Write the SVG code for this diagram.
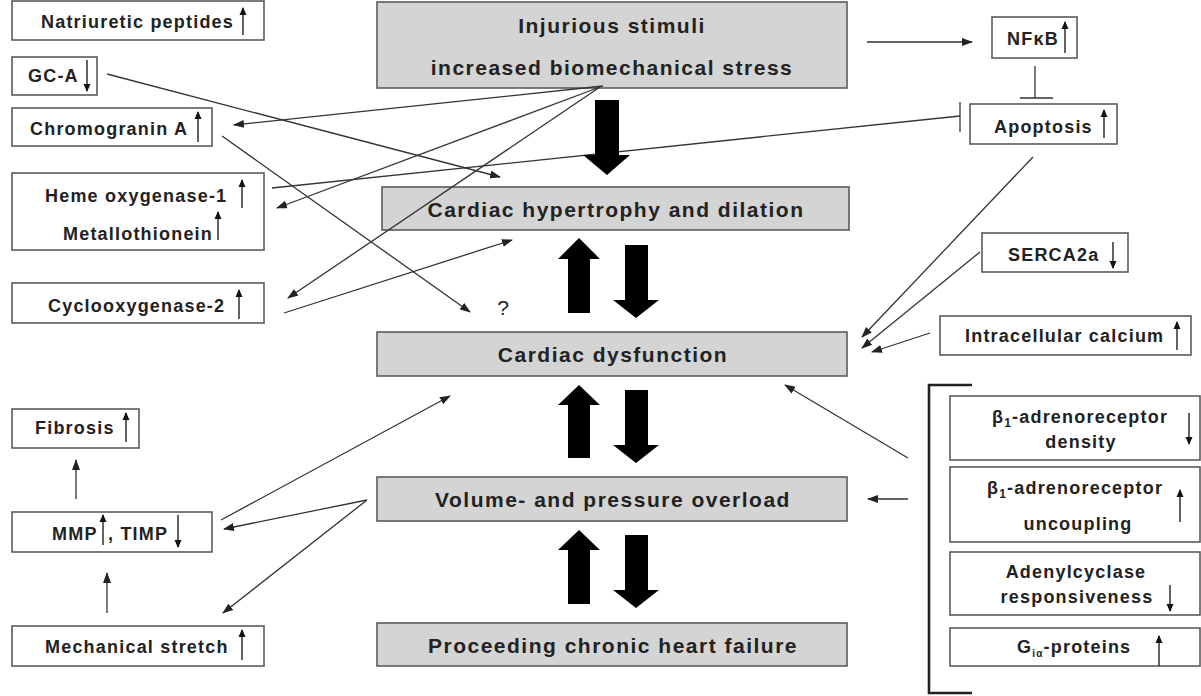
<svg xmlns="http://www.w3.org/2000/svg" width="1201" height="696" viewBox="0 0 1201 696">
<style>
.bx{fill:#fff;stroke:#5a5a5a;stroke-width:1.6}
.gb{fill:#d4d4d4;stroke:#5a5a5a;stroke-width:1.6}
.t{font-family:"Liberation Sans",Arial,sans-serif;font-weight:bold;font-size:18px;letter-spacing:1.2px;fill:#222}
.c{font-family:"Liberation Sans",Arial,sans-serif;font-weight:bold;font-size:21px;letter-spacing:1.5px;fill:#222;text-anchor:middle}
.m{text-anchor:middle}
.ln{stroke:#333;stroke-width:1.3;fill:none}
.sa{stroke:#222;stroke-width:1.4;fill:none}
.big{fill:#000}
</style>
<defs>
<marker id="a" markerUnits="userSpaceOnUse" markerWidth="11" markerHeight="8" refX="10" refY="4" orient="auto"><path d="M0,0 L11,4 L0,8 z" fill="#222"/></marker>
<marker id="s" markerUnits="userSpaceOnUse" markerWidth="8" markerHeight="8" refX="7" refY="4" orient="auto"><path d="M0,0.5 L8,4 L0,7.5 z" fill="#111"/></marker>
</defs>

<g id="injurious"><rect class="gb" x="377" y="2" width="470" height="86"/>
<text class="c" x="612" y="33">Injurious stimuli</text>
<text class="c" x="612" y="75">increased biomechanical stress</text></g>
<g id="hypertrophy"><rect class="gb" x="382" y="187" width="467" height="43"/>
<text class="c" x="616" y="217">Cardiac hypertrophy and dilation</text></g>
<g id="dysfunction"><rect class="gb" x="377" y="332" width="470" height="44"/>
<text class="c" x="613" y="362">Cardiac dysfunction</text></g>
<g id="overload"><rect class="gb" x="377" y="477" width="470" height="44"/>
<text class="c" x="613" y="507">Volume- and pressure overload</text></g>
<g id="chf"><rect class="gb" x="377" y="623" width="470" height="43"/>
<text class="c" x="613" y="653">Proceeding chronic heart failure</text></g>

<g id="natriuretic"><rect class="bx" x="12" y="1" width="252" height="39"/>
<text class="t" x="41" y="28">Natriuretic peptides</text>
<line class="sa" x1="243" y1="35" x2="243" y2="8" marker-end="url(#s)"/></g>
<g id="gca"><rect class="bx" x="12" y="57" width="85" height="38"/>
<text class="t" x="28" y="82">GC-A</text>
<line class="sa" x1="87" y1="60" x2="87" y2="91" marker-end="url(#s)"/></g>
<g id="chromogranin"><rect class="bx" x="12" y="108" width="200" height="38"/>
<text class="t" x="30" y="135">Chromogranin A</text>
<line class="sa" x1="198" y1="142" x2="198" y2="112" marker-end="url(#s)"/></g>
<g id="heme"><rect class="bx" x="12" y="173" width="252" height="77"/>
<text class="t" x="45" y="202">Heme oxygenase-1</text>
<line class="sa" x1="242" y1="208" x2="242" y2="180" marker-end="url(#s)"/>
<text class="t" x="63" y="240">Metallothionein</text>
<line class="sa" x1="218" y1="240" x2="218" y2="212" marker-end="url(#s)"/></g>
<g id="cox2"><rect class="bx" x="12" y="283" width="252" height="40"/>
<text class="t" x="48" y="312">Cyclooxygenase-2</text>
<line class="sa" x1="239" y1="319" x2="239" y2="290" marker-end="url(#s)"/></g>
<g id="fibrosis"><rect class="bx" x="12" y="409" width="127" height="39"/>
<text class="t" x="35" y="434">Fibrosis</text>
<line class="sa" x1="126" y1="442" x2="126" y2="413" marker-end="url(#s)"/></g>
<g id="mmp"><rect class="bx" x="12" y="512" width="200" height="40"/>
<text class="t" x="52" y="540">MMP</text>
<text class="t" x="108" y="540">, TIMP</text>
<line class="sa" x1="103" y1="545" x2="103" y2="515" marker-end="url(#s)"/>
<line class="sa" x1="178" y1="515" x2="178" y2="547" marker-end="url(#s)"/></g>
<g id="stretch"><rect class="bx" x="12" y="626" width="252" height="40"/>
<text class="t" x="45" y="653">Mechanical stretch</text>
<line class="sa" x1="242" y1="660" x2="242" y2="630" marker-end="url(#s)"/></g>

<g id="nfkb"><rect class="bx" x="992" y="17" width="85" height="41"/>
<text class="t" x="1007" y="45">NFκB</text>
<line class="sa" x1="1065" y1="53" x2="1065" y2="22" marker-end="url(#s)"/></g>
<g id="apoptosis"><rect class="bx" x="970" y="104" width="147" height="40"/>
<text class="t" x="994" y="133">Apoptosis</text>
<line class="sa" x1="1104" y1="138" x2="1104" y2="110" marker-end="url(#s)"/></g>
<g id="serca"><rect class="bx" x="982" y="233" width="146" height="39"/>
<text class="t" x="1008" y="261">SERCA2a</text>
<line class="sa" x1="1113" y1="242" x2="1113" y2="268" marker-end="url(#s)"/></g>
<g id="calcium"><rect class="bx" x="940" y="316" width="251" height="39"/>
<text class="t" x="965" y="342">Intracellular calcium</text>
<line class="sa" x1="1177" y1="350" x2="1177" y2="322" marker-end="url(#s)"/></g>
<g id="b1density"><rect class="bx" x="950" y="396" width="250" height="64"/>
<text class="t" x="992" y="423">β<tspan font-size="12" dy="4">1</tspan><tspan dy="-4">-adrenoreceptor</tspan></text>
<text class="t m" x="1081" y="448">density</text>
<line class="sa" x1="1189" y1="413" x2="1189" y2="444" marker-end="url(#s)"/></g>
<g id="b1uncoupling"><rect class="bx" x="950" y="467" width="250" height="75"/>
<text class="t" x="987" y="494">β<tspan font-size="12" dy="4">1</tspan><tspan dy="-4">-adrenoreceptor</tspan></text>
<text class="t m" x="1078" y="530">uncoupling</text>
<line class="sa" x1="1180" y1="522" x2="1180" y2="490" marker-end="url(#s)"/></g>
<g id="adenylcyclase"><rect class="bx" x="950" y="552" width="250" height="63"/>
<text class="t m" x="1076" y="578">Adenylcyclase</text>
<text class="t m" x="1077" y="603">responsiveness</text>
<line class="sa" x1="1170" y1="585" x2="1170" y2="611" marker-end="url(#s)"/></g>
<g id="gproteins"><rect class="bx" x="950" y="628" width="250" height="38"/>
<text class="t" x="1017" y="653">G<tspan font-size="10" dy="4">iα</tspan><tspan dy="-4">-proteins</tspan></text>
<line class="sa" x1="1159" y1="666" x2="1159" y2="636" marker-end="url(#s)"/></g>

<g id="connectors">
<line class="ln" x1="603" y1="86" x2="234" y2="125" marker-end="url(#a)"/>
<line class="ln" x1="600" y1="87" x2="277" y2="208" marker-end="url(#a)"/>
<line class="ln" x1="600" y1="87" x2="288" y2="298" marker-end="url(#a)"/>
<line class="ln" x1="107" y1="74" x2="500" y2="177" marker-end="url(#a)"/>
<line class="ln" x1="222" y1="136" x2="470" y2="312" marker-end="url(#a)"/>
<line class="ln" x1="284" y1="313" x2="512" y2="240" marker-end="url(#a)"/>
<line class="ln" x1="272" y1="188" x2="960" y2="116"/>
<line class="ln" x1="960" y1="102" x2="960" y2="132"/>
<line class="ln" x1="867" y1="42" x2="972" y2="42" marker-end="url(#a)"/>
<line class="ln" x1="1035" y1="66" x2="1035" y2="98"/>
<line class="ln" x1="1020" y1="98" x2="1053" y2="98"/>
<line class="ln" x1="1033" y1="157" x2="862" y2="337" marker-end="url(#a)"/>
<line class="ln" x1="980" y1="252" x2="862" y2="348" marker-end="url(#a)"/>
<line class="ln" x1="930" y1="333" x2="872" y2="352" marker-end="url(#a)"/>
<line class="ln" x1="908" y1="458" x2="785" y2="385" marker-end="url(#a)"/>
<line class="ln" x1="908" y1="499" x2="868" y2="499" marker-end="url(#a)"/>
<line class="ln" x1="221" y1="520" x2="450" y2="396" marker-end="url(#a)"/>
<line class="ln" x1="367" y1="500" x2="224" y2="529" marker-end="url(#a)"/>
<line class="ln" x1="367" y1="500" x2="223" y2="613" marker-end="url(#a)"/>
<line class="ln" x1="76" y1="499" x2="76" y2="460" marker-end="url(#a)"/>
<line class="ln" x1="107" y1="613" x2="107" y2="573" marker-end="url(#a)"/>
<path d="M972,385 H929 V693 H972" fill="none" stroke="#222" stroke-width="2.6"/>
<polygon class="big" points="595,100 619,100 619,155 630,155 607,175 583,155 595,155"/>
<polygon class="big" points="579,238 600,259 590,259 590,313 568,313 568,259 558,259"/>
<polygon class="big" points="625,245 648,245 648,300 659,300 636,318 613,300 625,300"/>
<polygon class="big" points="579,385 600,405 590,405 590,458 568,458 568,405 558,405"/>
<polygon class="big" points="625,390 648,390 648,445 659,445 636,463 613,445 625,445"/>
<polygon class="big" points="579,530 600,550 590,550 590,604 568,604 568,550 558,550"/>
<polygon class="big" points="625,535 648,535 648,590 659,590 636,608 613,590 625,590"/>
<text x="503" y="315" font-family="Liberation Sans,Arial,sans-serif" font-size="21" fill="#222" text-anchor="middle">?</text>
</g>
</svg>
